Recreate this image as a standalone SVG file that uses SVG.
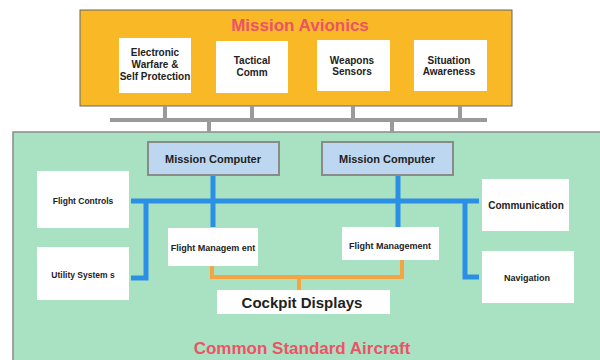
<svg xmlns="http://www.w3.org/2000/svg" width="600" height="360" viewBox="0 0 600 360">
<style>
.w{fill:#ffffff;stroke:none}
.t{font-family:"Liberation Sans",Arial,sans-serif;font-weight:bold;fill:#222;text-anchor:middle}
.s10{font-size:10px}
.s9{font-size:9px}
.gray{stroke:#9a9a9a;stroke-width:4;fill:none}
.blue{stroke:#2b8fe6;stroke-width:5;fill:none}
.orange{stroke:#f5a442;stroke-width:4;fill:none}
.red{font-family:"Liberation Sans",Arial,sans-serif;font-weight:bold;fill:#ee5266;text-anchor:middle}
</style>
<rect x="0" y="0" width="600" height="360" fill="#ffffff"/>
<g id="green-area">
<rect x="13" y="132" width="590" height="232" fill="#a8e2c2" stroke="#8a8a8a" stroke-width="1.5"/>
<text class="red" x="302" y="354" font-size="17">Common Standard Aircraft</text>
</g>
<g id="mission-avionics">
<rect x="80" y="10" width="432" height="96" fill="#f9b927" stroke="#666" stroke-width="1"/>
<text class="red" x="300" y="31" font-size="17">Mission Avionics</text>
</g>
<g id="connectors">
<path class="gray" d="M165 106V120M252 106V120M353 106V120M460 106V120M110 120H487M209 120V132M392 120V132"/>
<path class="blue" d="M213 175V227M398 175V227M131 201H479M146 201V278H131M465 201V277H479"/>
<path class="orange" d="M212 266V277H402V260M299 277V290"/>
</g>
<g id="ew">
<rect class="w" x="119" y="38" width="72" height="55"/>
<text class="t s10" x="155" y="56">Electronic</text>
<text class="t s10" x="155" y="68">Warfare &amp;</text>
<text class="t s10" x="155" y="80">Self Protection</text>
</g>
<g id="tactical">
<rect class="w" x="216" y="41" width="72" height="52"/>
<text class="t s10" x="252" y="64">Tactical</text>
<text class="t s10" x="252" y="76">Comm</text>
</g>
<g id="weapons">
<rect class="w" x="317" y="40" width="73" height="51"/>
<text class="t s10" x="352" y="64">Weapons</text>
<text class="t s10" x="352" y="75">Sensors</text>
</g>
<g id="situation">
<rect class="w" x="414" y="40" width="73" height="51"/>
<text class="t s10" x="449" y="64">Situation</text>
<text class="t s10" x="449" y="75">Awareness</text>
</g>
<g id="mc-left">
<rect x="148" y="142" width="131" height="33" fill="#bcd7ef" stroke="#8a8a8a" stroke-width="2"/>
<text class="t" font-size="11" x="213" y="163">Mission Computer</text>
</g>
<g id="mc-right">
<rect x="322" y="142" width="131" height="33" fill="#bcd7ef" stroke="#8a8a8a" stroke-width="2"/>
<text class="t" font-size="11" x="387" y="163">Mission Computer</text>
</g>
<g id="flight-controls">
<rect class="w" x="37" y="171" width="92" height="57"/>
<text class="t" font-size="8.5" x="83" y="204">Flight Controls</text>
</g>
<g id="utility">
<rect class="w" x="37" y="247" width="92" height="53"/>
<text class="t" font-size="8.5" x="83" y="278">Utility System s</text>
</g>
<g id="fm-left">
<rect class="w" x="168" y="228" width="90" height="38"/>
<text class="t s9" x="213" y="251">Flight Managem ent</text>
</g>
<g id="fm-right">
<rect class="w" x="342" y="227" width="97" height="33"/>
<text class="t s9" x="390" y="249">Flight Management</text>
</g>
<g id="communication">
<rect class="w" x="482" y="179" width="87" height="52"/>
<text class="t s10" x="526" y="209">Communication</text>
</g>
<g id="navigation">
<rect class="w" x="482" y="251" width="92" height="52"/>
<text class="t s9" x="527" y="281">Navigation</text>
</g>
<g id="cockpit">
<rect class="w" x="217" y="290" width="173" height="24"/>
<text class="t" x="302" y="308" font-size="15">Cockpit Displays</text>
</g>
</svg>
